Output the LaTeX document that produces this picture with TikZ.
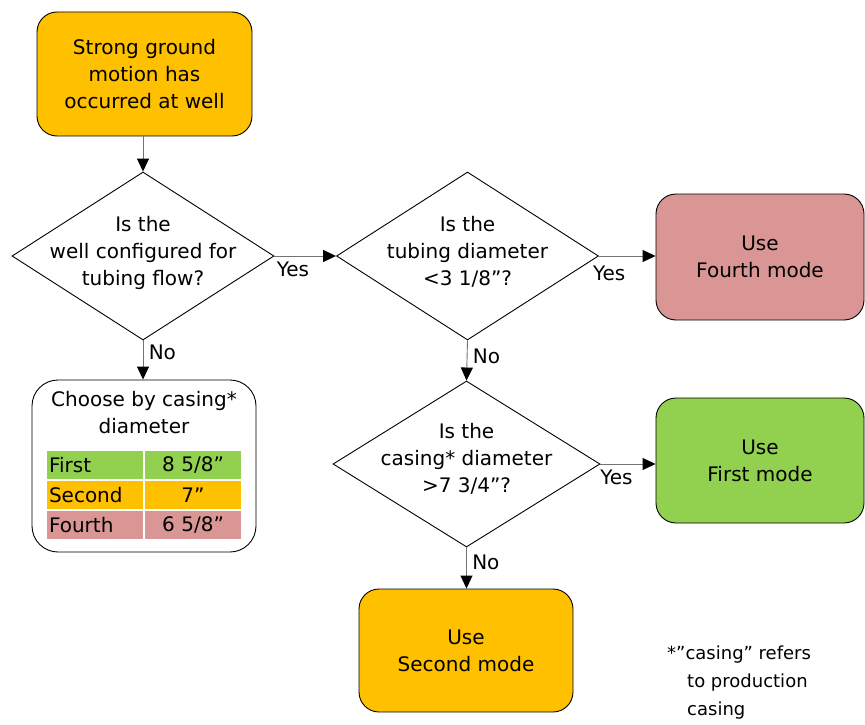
\documentclass[tikz,border=0pt]{standalone}
\usepackage{fontspec}
\setmainfont{DejaVu Sans}
\usetikzlibrary{arrows.meta,shapes.geometric}
\definecolor{gold}{HTML}{FFC000}
\definecolor{rose}{HTML}{D99694}
\definecolor{leaf}{HTML}{92D050}
\tikzset{
	box/.style={draw=black, line width=0.9pt, rounded corners=20pt, align=center, inner sep=0pt},
	dec/.style={draw=black, line width=0.9pt, diamond, inner sep=0pt, minimum width=262pt, minimum height=168pt},
	conn/.style={draw=black!55, line width=0.9pt, -{Triangle[length=13pt,width=12pt,color=black]}},
	cell/.style={minimum height=28pt, inner ysep=0pt, inner xsep=2pt, text width=92pt}
}
\begin{document}
\begin{tikzpicture}[x=1pt, y=-1pt, font=\fontsize{20}{27}\selectfont]
	\useasboundingbox (0,0) rectangle (865,725);
	\node[box, fill=gold, minimum width=215pt, minimum height=124pt] (start) at (144.5,74) {Strong ground\\motion has\\occurred at well};
	\node[dec] (d1) at (143,256) {};
	\node[align=center] (q1) at (143,253) {Is the\\well configured for\\tubing flow?};
	\node[dec] (d2) at (467.5,256) {};
	\node[align=center] (q2) at (467.5,252) {Is the\\tubing diameter\\<3 1/8”?};
	\node[dec, minimum width=267pt, minimum height=166pt] (d3) at (466.5,464) {};
	\node[align=center] (q3) at (466.5,459) {Is the\\casing* diameter\\>7 3/4”?};
	\node[box, fill=rose, minimum width=208pt, minimum height=126pt] (fourth) at (760,257) {Use\\Fourth mode};
	\node[box, fill=leaf, minimum width=208pt, minimum height=125pt] (first) at (760,460.5) {Use\\First mode};
	\node[box, fill=gold, minimum width=214pt, minimum height=123pt] (second) at (466,650.5) {Use\\Second mode};
	\node[box, rounded corners=26pt, minimum width=224pt, minimum height=172pt] (choose) at (144,466) {};
	\node[align=center] (ctitle) at (144,413) {Choose by casing*\\diameter};
	\node[cell, fill=leaf, align=left] (c11) at (95,465) {First};
	\node[cell, fill=leaf, align=center] (c12) at (193,465) {8 5/8”};
	\node[cell, fill=gold, align=left] (c21) at (95,495) {Second};
	\node[cell, fill=gold, align=center] (c22) at (193,495) {7”};
	\node[cell, fill=rose, align=left] (c31) at (95,525) {Fourth};
	\node[cell, fill=rose, align=center] (c32) at (193,525) {6 5/8”};
	\draw[conn] (d1.north |- start.south) -- (d1.north);
	\draw[conn] (d1.east) -- node[pos=0.3, below=2pt] {Yes} (d2.west);
	\draw[conn] (d1.south) -- node[pos=0.3, right=2pt] {No} (d1.south |- choose.north);
	\draw[conn] (d2.east) -- node[pos=0.18, below=6pt] {Yes} (d2.east -| fourth.west);
	\draw[conn] (d2.south) -- node[pos=0.4, right=2pt] {No} (d3.north);
	\draw[conn] (d3.east) -- node[pos=0.29, below=2pt] {Yes} (d3.east -| first.west);
	\draw[conn] (d3.south) -- node[pos=0.36, right=2pt] {No} (d3.south |- second.north);
	\node[anchor=north west, inner sep=0pt, align=left, font=\fontsize{18}{28}\selectfont] (note) at (667,646) {*”casing” refers\\\hspace*{20pt}to production\\\hspace*{20pt}casing};
\end{tikzpicture}
\end{document}
